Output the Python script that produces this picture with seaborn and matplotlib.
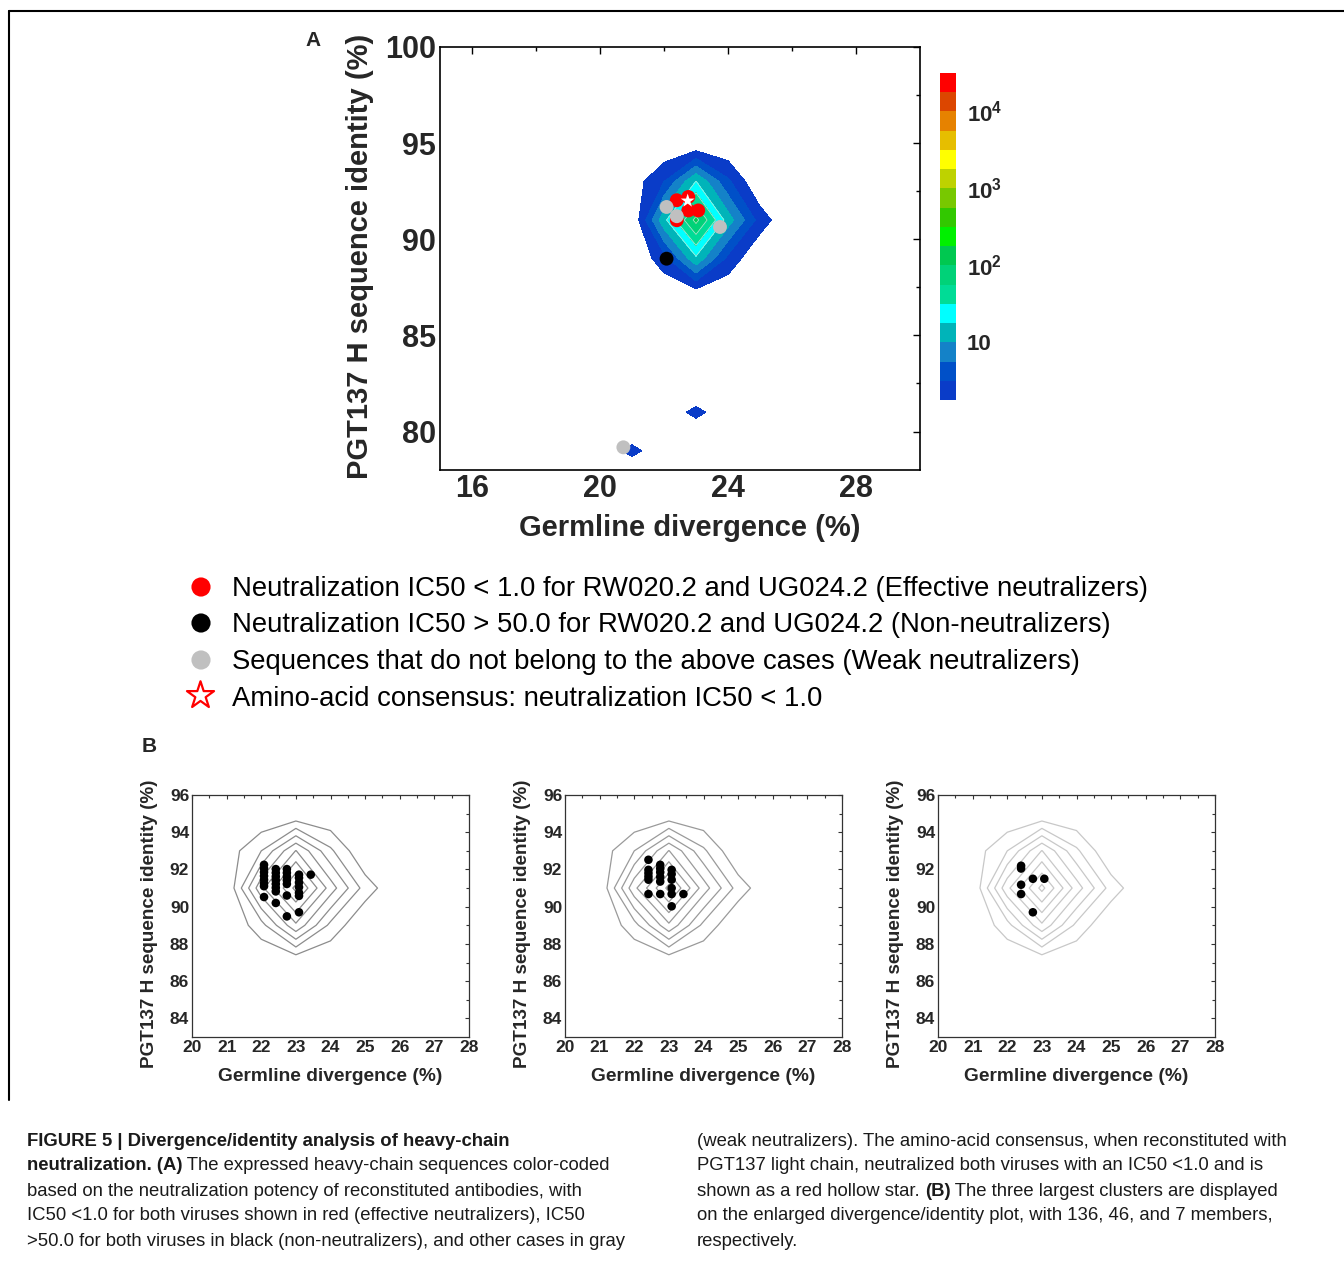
import numpy as np
import pandas as pd
import matplotlib
matplotlib.use("Agg")
import matplotlib.pyplot as plt
import seaborn as sns

# density surface on a (divergence, identity) grid
grid_x = [19, 20, 21, 22, 23, 24, 25, 26, 27]
grid_y = [77, 78, 79, 80, 81, 82, 83, 85, 87, 89, 91, 93, 95, 97]

# non-empty grid cells: divergence, identity, sequence density
cell_x = [21, 22, 23, 24, 22, 23, 24, 25, 22, 23, 24, 23, 21]
cell_y = [93, 93, 93, 93, 91, 91, 91, 91, 89, 89, 89, 81, 79]
cell_d = [0.26, 2.16, 17.2, 2.55, 14.1, 119.2, 12.5, 1.45, 1.51, 14.8, 1.69, 1.29, 1.29]

# panel A: expressed heavy chains
red_x = [22.40, 22.76, 22.76, 23.07, 22.40]
red_y = [92.03, 92.20, 91.50, 91.50, 90.99]
gray_x = [22.08, 22.40, 23.75, 20.73]
gray_y = [91.68, 91.20, 90.64, 79.18]
black_x = [22.08]
black_y = [88.99]
star_x = [22.74]
star_y = [92.0]

# panel B: three largest clusters
c1_x = [22.08] * 8 + [22.42] * 8 + [22.74] * 7 + [23.09] * 7 + [23.43]
c1_y = [92.25, 92.05, 91.85, 91.65, 91.45, 91.25, 91.10, 90.52,
        92.02, 91.82, 91.62, 91.42, 91.22, 91.02, 90.82, 90.20,
        92.02, 91.82, 91.62, 91.42, 91.22, 90.60, 89.48,
        91.72, 91.55, 91.30, 91.05, 90.75, 90.58, 89.70,
        91.72]
c2_x = [22.41] * 6 + [22.75] * 6 + [23.08] * 6 + [23.42]
c2_y = [92.52, 91.98, 91.80, 91.62, 91.45, 90.68,
        92.25, 92.05, 91.85, 91.60, 91.35, 90.68,
        91.98, 91.75, 91.45, 91.00, 90.68, 90.02,
        90.68]
c3_x = [22.40, 22.40, 22.40, 22.40, 22.74, 23.07, 22.74]
c3_y = [92.20, 92.05, 91.18, 90.68, 91.50, 91.50, 89.70]

cmap_colors = ['#0a3cc8', '#0050c8', '#1482c8', '#00b4b9', '#00ffff', '#00dc96',
               '#00d278', '#00c850', '#00f000', '#32c800', '#78c800', '#bed200',
               '#ffff00', '#e6be00', '#e68200', '#dc4600', '#ff0000']
levels = np.arange(0.25, 4.51, 0.25)

legend_labels = [
    "Neutralization IC50 < 1.0 for RW020.2 and UG024.2 (Effective neutralizers)",
    "Neutralization IC50 > 50.0 for RW020.2 and UG024.2 (Non-neutralizers)",
    "Sequences that do not belong to the above cases (Weak neutralizers)",
    "Amino-acid consensus: neutralization IC50 < 1.0",
]

sns.set_theme(style="white")
plt.rcParams['font.family'] = ['Liberation Sans', 'DejaVu Sans']
plt.rcParams['mathtext.fontset'] = 'custom'
plt.rcParams['mathtext.bf'] = 'Liberation Sans:bold'
plt.rcParams['mathtext.rm'] = 'Liberation Sans'

W, H = 1344, 1261
fig = plt.figure(figsize=(W / 100, H / 100), dpi=100)


def px_axes(l, t, r, b):
    return fig.add_axes([l / W, 1 - b / H, (r - l) / W, (b - t) / H])


# overlay in pixel coordinates for frame, legend and caption
ov = fig.add_axes([0, 0, 1, 1])
ov.set_xlim(0, W)
ov.set_ylim(H, 0)
ov.axis('off')
ov.patch.set_alpha(0)

gx = np.array(grid_x)
gy = np.array(grid_y)
z = np.zeros((len(gy), len(gx)))
for x, y, d in zip(cell_x, cell_y, cell_d):
    z[grid_y.index(y), grid_x.index(x)] = d
logz = np.log10(1 + z)

# ---- panel A
axA = px_axes(440, 47, 920, 470)
cf = axA.contourf(gx, gy, logz, levels=levels, colors=cmap_colors)
axA.contour(gx, gy, logz, levels=levels[4:9], colors='#a8e6d2', linewidths=0.6)

dfA = pd.DataFrame({
    'x': red_x + gray_x + black_x,
    'y': red_y + gray_y + black_y,
    'g': ['red'] * len(red_x) + ['gray'] * len(gray_x) + ['black'] * len(black_x),
})
sns.scatterplot(data=dfA, x='x', y='y', hue='g', ax=axA, s=100, edgecolor='none',
                palette={'red': '#ff0000', 'gray': '#c0c0c0', 'black': '#000000'},
                legend=False, zorder=3)
axA.scatter(star_x, star_y, marker='*', s=110, color='white', edgecolor='none', zorder=4)

axA.set_xlim(15, 30)
axA.set_ylim(78, 100)
axA.set_xticks([16, 20, 24, 28])
axA.set_xticks([18, 22, 26], minor=True)
axA.set_yticks([80, 85, 90, 95, 100])
axA.set_yticks([82.5, 87.5, 92.5, 97.5], minor=True)
axA.tick_params(which='both', direction='in', top=True, right=True, color='black',
                labelsize=22, width=1)
axA.tick_params(which='major', length=5, pad=3)
axA.tick_params(which='minor', length=3)
for lab in axA.get_xticklabels() + axA.get_yticklabels():
    lab.set_fontweight('bold')
for sp in axA.spines.values():
    sp.set_color('black')
    sp.set_linewidth(1.2)
axA.set_xlabel('Germline divergence (%)', fontsize=21, fontweight='bold', va='center')
axA.xaxis.set_label_coords(0.52, -0.138)
axA.set_ylabel('PGT137 H sequence identity (%)', fontsize=21, fontweight='bold', va='center')
axA.yaxis.set_label_coords(-0.167, 0.505)

cax = px_axes(940, 73, 956, 400)
cb = fig.colorbar(cf, cax=cax, ticks=[1, 2, 3, 4])
cb.outline.set_visible(False)
cb.ax.set_yticklabels(['10', r'$\mathbf{10^2}$', r'$\mathbf{10^3}$', r'$\mathbf{10^4}$'])
cb.ax.tick_params(length=0, pad=8, labelsize=16)
for lab in cb.ax.get_yticklabels():
    lab.set_fontweight('bold')

# ---- legend of panel A
leg_y = [589, 625, 662, 699]
leg_c = ['#ff0000', '#000000', '#c0c0c0']
for yy, c in zip(leg_y[:3], leg_c):
    ov.scatter([201], [yy - 2], s=190, color=c, edgecolor='none')
ov.scatter([200], [leg_y[3] - 4], s=420, marker='*', facecolor='white', edgecolor='#ff0000',
           linewidth=1.6)
for yy, t in zip(leg_y, legend_labels):
    ov.text(232, yy, t, fontsize=19.8, ha='left', va='center', color='black')

# ---- panel B
b_lefts = [192, 565, 938]
b_line = ['#8c8c8c', '#9a9a9a', '#c8c8c8']
clusters = [(c1_x, c1_y), (c2_x, c2_y), (c3_x, c3_y)]
for left, lc, (cx, cy) in zip(b_lefts, b_line, clusters):
    ax = px_axes(left, 795, left + 277, 1037)
    ax.contour(gx, gy, logz, levels=levels[:8], colors=lc, linewidths=0.9)
    sns.scatterplot(x=cx, y=cy, ax=ax, s=38, color='black', edgecolor='none', zorder=3)
    ax.set_xlim(20, 28)
    ax.set_ylim(83, 96)
    ax.set_xticks(range(20, 29))
    ax.set_xticks(np.arange(20.5, 28, 1), minor=True)
    ax.set_yticks([84, 86, 88, 90, 92, 94, 96])
    ax.set_yticks([85, 87, 89, 91, 93, 95], minor=True)
    ax.tick_params(which='both', direction='in', top=True, right=True, color='#333333',
                   labelsize=12.5, width=0.8)
    ax.tick_params(which='major', length=3, pad=2)
    ax.tick_params(which='minor', length=2)
    for lab in ax.get_xticklabels() + ax.get_yticklabels():
        lab.set_fontweight('bold')
    for sp in ax.spines.values():
        sp.set_color('#333333')
        sp.set_linewidth(0.9)
    ax.set_xlabel('Germline divergence (%)', fontsize=13.8, fontweight='bold', va='center')
    ax.xaxis.set_label_coords(0.5, -0.165)
    ax.set_ylabel('PGT137 H sequence identity (%)', fontsize=13.6, fontweight='bold',
                  va='center')
    ax.yaxis.set_label_coords(-0.152, 0.47)

# ---- frame and panel letters
ov.plot([9, W], [11, 11], color='black', lw=1.5)
ov.plot([9, 9], [11, 1100], color='black', lw=1.5)
ov.text(313, 41, 'A', fontsize=15, fontweight='bold', ha='center', va='center')
ov.text(149, 746, 'B', fontsize=15, fontweight='bold', ha='center', va='center')

# ---- caption
cap_font = ['Liberation Sans Narrow', 'Liberation Sans', 'DejaVu Sans']
cap_size = 13.3
renderer = fig.canvas.get_renderer()


def cap_line(x, y, parts):
    for txt, bold in parts:
        t = ov.text(x, y, txt, fontsize=cap_size, family=cap_font, ha='left', va='center',
                    fontweight='bold' if bold else 'normal', color='#1a1a1a')
        x = t.get_window_extent(renderer).x1


cap_y = [1141, 1166, 1191, 1216, 1242]
left_col = [
    [("FIGURE 5 | Divergence/identity analysis of heavy-chain", True)],
    [("neutralization. (A)", True), (" The expressed heavy-chain sequences color-coded", False)],
    [("based on the neutralization potency of reconstituted antibodies, with", False)],
    [("IC50 <1.0 for both viruses shown in red (effective neutralizers), IC50", False)],
    [(">50.0 for both viruses in black (non-neutralizers), and other cases in gray", False)],
]
right_col = [
    [("(weak neutralizers). The amino-acid consensus, when reconstituted with", False)],
    [("PGT137 light chain, neutralized both viruses with an IC50 <1.0 and is", False)],
    [("shown as a red hollow star. ", False), ("(B)", True),
     (" The three largest clusters are displayed", False)],
    [("on the enlarged divergence/identity plot, with 136, 46, and 7 members,", False)],
    [("respectively.", False)],
]
for yy, parts in zip(cap_y, left_col):
    cap_line(27, yy, parts)
for yy, parts in zip(cap_y, right_col):
    cap_line(697, yy, parts)

fig.savefig('out.png', dpi=100)
